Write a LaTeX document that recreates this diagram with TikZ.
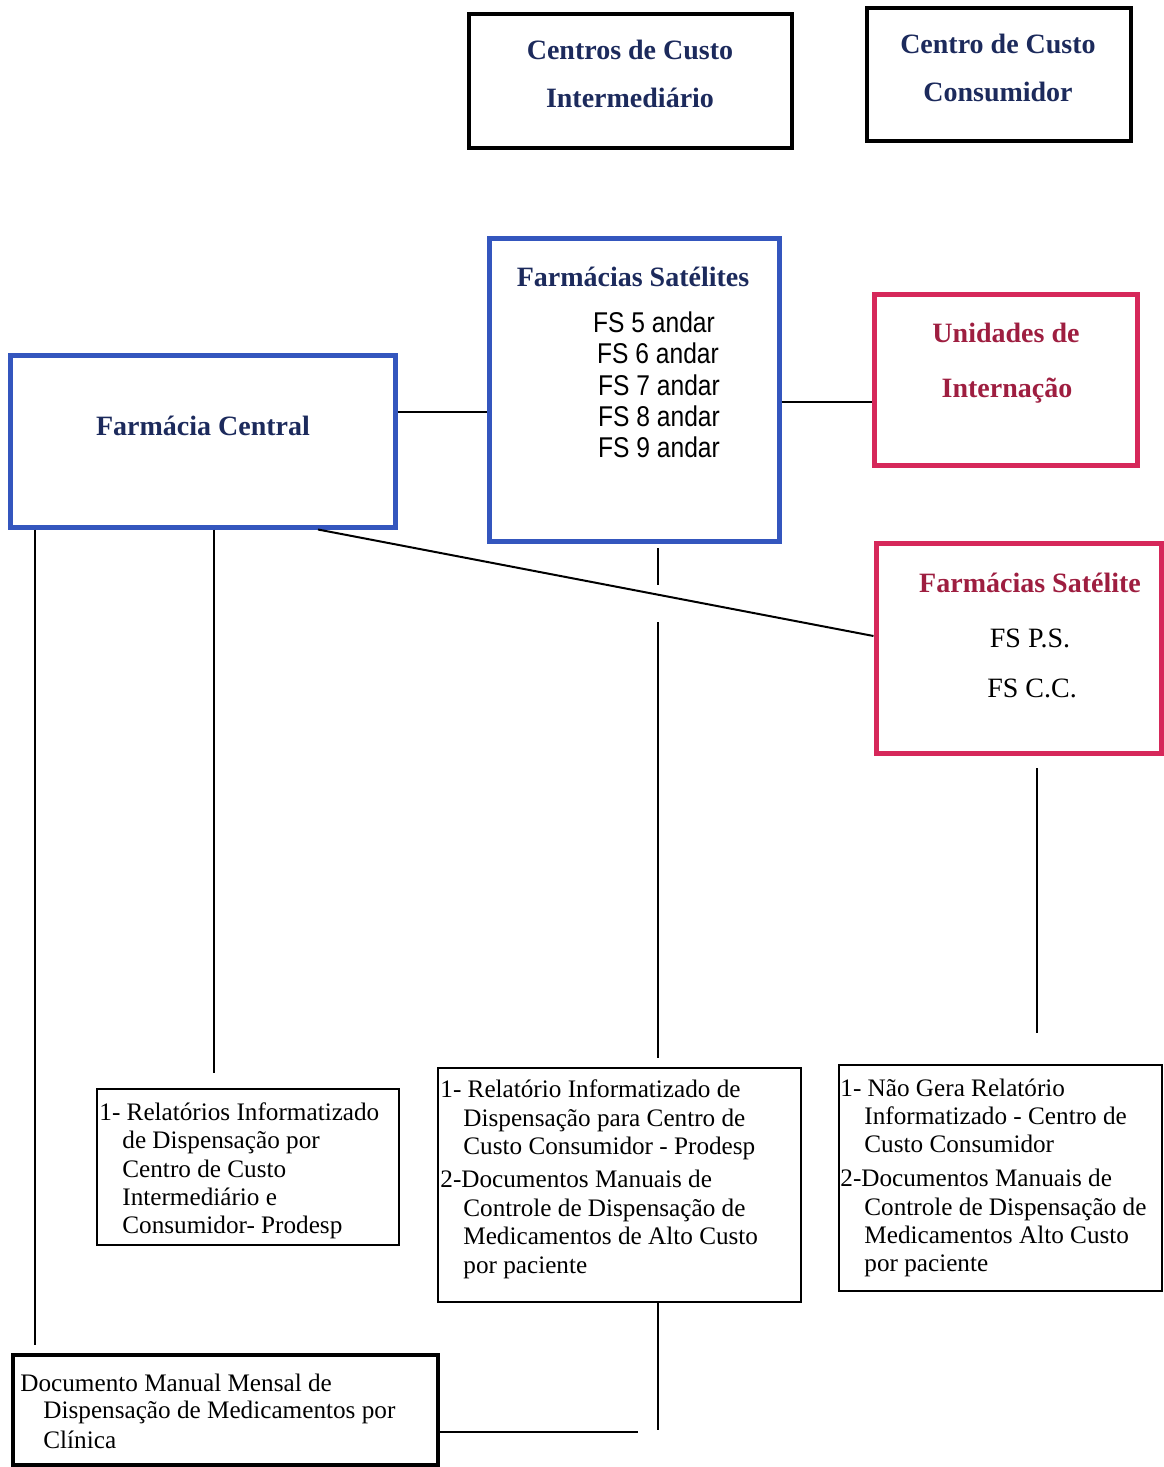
\documentclass[tikz,border=0pt]{standalone}
\usepackage{fontspec}
\setmainfont{Liberation Serif}
\newfontfamily\fsnarrow[FakeStretch=0.86]{Liberation Sans}
\definecolor{navy}{HTML}{1C2A5C}
\definecolor{crimson}{HTML}{9E1E40}
\definecolor{boxblue}{HTML}{3456BE}
\definecolor{boxred}{HTML}{D6285A}
\begin{document}
\begin{tikzpicture}[x=0.5pt,y=-0.5pt,
  box/.style={draw, rectangle, inner sep=0pt},
  thickbox/.style={box, line width=2pt, draw=black},
  bluebox/.style={box, line width=2.5pt, draw=boxblue},
  redbox/.style={box, line width=2.5pt, draw=boxred},
  thinbox/.style={box, line width=1pt, draw=black},
  title/.style={font=\fontsize{14}{16}\selectfont\bfseries, text=navy, inner sep=0pt, anchor=mid, yshift=-2.5pt},
  redtitle/.style={title, text=crimson},
  txt/.style={font=\fontsize{12.6}{14}\selectfont, inner sep=0pt, anchor=mid west, yshift=-2pt},
  fsl/.style={font=\fsnarrow\fontsize{14.3}{16}\selectfont, inner sep=0pt, anchor=mid, yshift=-2.5pt},
  fsr/.style={font=\fontsize{14}{16}\selectfont, inner sep=0pt, anchor=mid, yshift=-2.5pt},
  conn/.style={line width=1pt, draw=black}
]
\useasboundingbox (0,0) rectangle (1163,1467);

% boxes
\node[thickbox, minimum width=161.5pt, minimum height=67pt] (cci) at (630.5,81) {};
\node[thickbox, minimum width=132pt, minimum height=66.5pt] (ccc) at (999,74.5) {};
\node[bluebox, minimum width=145pt, minimum height=151.5pt] (fss) at (634,389.5) {};
\node[bluebox, minimum width=192.5pt, minimum height=86pt] (fc) at (202.5,441) {};
\node[redbox, minimum width=131.5pt, minimum height=85.5pt] (ui) at (1005.5,379.5) {};
\node[redbox, minimum width=142.5pt, minimum height=105pt] (fs2) at (1018.5,648) {};
\node[thinbox, minimum width=151pt, minimum height=78pt] (b1) at (248,1167) {};
\node[thinbox, minimum width=181.5pt, minimum height=117pt] (b2) at (619.5,1185) {};
\node[thinbox, minimum width=161.5pt, minimum height=113pt] (b3) at (1000.5,1178) {};
\node[thickbox, minimum width=212.5pt, minimum height=55pt] (doc) at (225.5,1410) {};

% titles
\node[title] (cci1) at (630,50) {Centros de Custo};
\node[title] (cci2) at (630,98) {Intermediário};
\node[title] (ccc1) at (998,44) {Centro de Custo};
\node[title] (ccc2) at (998,92) {Consumidor};
\node[title] (fsst) at (633,277) {Farmácias Satélites};
\node[fsl] (fs5) at (654,323) {FS 5 andar};
\node[fsl] (fs6) at (658,354) {FS 6 andar};
\node[fsl] (fs7) at (659,386) {FS 7 andar};
\node[fsl] (fs8) at (659,417) {FS 8 andar};
\node[fsl] (fs9) at (659,448) {FS 9 andar};
\node[title] (fct) at (203,426) {Farmácia Central};
\node[redtitle] (ui1) at (1006,333) {Unidades de};
\node[redtitle] (ui2) at (1007,388) {Internação};
\node[redtitle] (fs2t) at (1030,583) {Farmácias Satélite};
\node[fsr] (fsps) at (1030,638) {FS P.S.};
\node[fsr] (fscc) at (1032,688) {FS C.C.};

% box 1
\node[txt] (b1a) at (99,1112) {1- Relatórios Informatizado};
\node[txt] (b1b) at (122,1140) {de Dispensação por};
\node[txt] (b1c) at (122,1169) {Centro de Custo};
\node[txt] (b1d) at (122,1197) {Intermediário e};
\node[txt] (b1e) at (122,1225) {Consumidor- Prodesp};
% box 2
\node[txt] (b2a) at (440,1089) {1- Relatório Informatizado de};
\node[txt] (b2b) at (463,1118) {Dispensação para Centro de};
\node[txt] (b2c) at (463,1146) {Custo Consumidor - Prodesp};
\node[txt] (b2d) at (440,1179) {2-Documentos Manuais de};
\node[txt] (b2e) at (463,1208) {Controle de Dispensação de};
\node[txt] (b2f) at (463,1236) {Medicamentos de Alto Custo};
\node[txt] (b2g) at (463,1265) {por paciente};
% box 3
\node[txt] (b3a) at (840,1088) {1- Não Gera Relatório};
\node[txt] (b3b) at (864,1116) {Informatizado - Centro de};
\node[txt] (b3c) at (864,1144) {Custo Consumidor};
\node[txt] (b3d) at (840,1178) {2-Documentos Manuais de};
\node[txt] (b3e) at (864,1207) {Controle de Dispensação de};
\node[txt] (b3f) at (864,1235) {Medicamentos Alto Custo};
\node[txt] (b3g) at (864,1263) {por paciente};
% doc
\node[txt] (da) at (20,1383) {Documento Manual Mensal de};
\node[txt] (db) at (43,1410) {Dispensação de Medicamentos por};
\node[txt] (dc) at (43,1440) {Clínica};

% connectors
\coordinate (ya) at (0,412);
\coordinate (yb) at (0,402);
\coordinate (xd) at (318,0);
\coordinate (yd) at (0,636);
\coordinate (v1) at (35,1345);
\coordinate (v2) at (214,1073);
\coordinate (g1) at (658,548);
\coordinate (g2) at (658,585);
\coordinate (g3) at (658,622);
\coordinate (g4) at (658,1058);
\coordinate (r1) at (1037,768);
\coordinate (r2) at (1037,1033);
\coordinate (v5) at (658,1430);
\coordinate (h1) at (638,1432);

\draw[conn] (fc.east |- ya) -- (fss.west |- ya);
\draw[conn] (fss.east |- yb) -- (ui.west |- yb);
\draw[conn] (fc.south -| xd) -- (fs2.west |- yd);
\draw[conn] (fc.south -| v1) -- (v1);
\draw[conn] (fc.south -| v2) -- (v2);
\draw[conn] (g1) -- (g2);
\draw[conn] (g3) -- (g4);
\draw[conn] (r1) -- (r2);
\draw[conn] (b2.south -| v5) -- (v5);
\draw[conn] (doc.east |- h1) -- (h1);
\end{tikzpicture}
\end{document}
